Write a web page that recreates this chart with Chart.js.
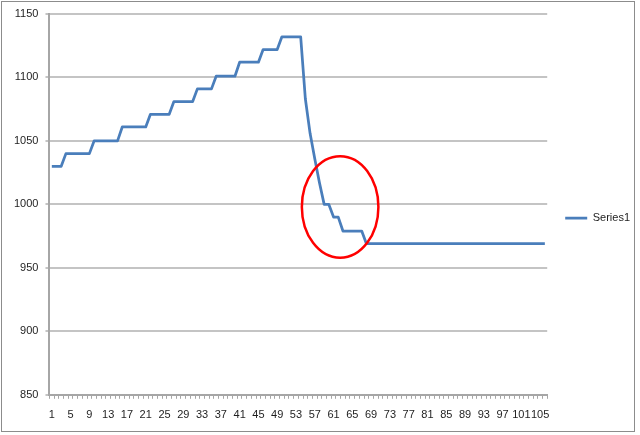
<!DOCTYPE html>
<html>
<head>
<meta charset="utf-8">
<script src="https://cdn.jsdelivr.net/npm/chart.js@4/dist/chart.umd.min.js"></script>
<style>
  html, body { margin: 0; padding: 0; background: #fff; }
  #wrap { width: 640px; height: 435px; }
</style>
</head>
<body>
<div id="wrap"><canvas id="chart" width="640" height="435"></canvas></div>
<script>
const categories = [
  '1', '2', '3', '4', '5', '6', '7', '8', '9', '10',
  '11', '12', '13', '14', '15', '16', '17', '18', '19', '20',
  '21', '22', '23', '24', '25', '26', '27', '28', '29', '30',
  '31', '32', '33', '34', '35', '36', '37', '38', '39', '40',
  '41', '42', '43', '44', '45', '46', '47', '48', '49', '50',
  '51', '52', '53', '54', '55', '56', '57', '58', '59', '60',
  '61', '62', '63', '64', '65', '66', '67', '68', '69', '70',
  '71', '72', '73', '74', '75', '76', '77', '78', '79', '80',
  '81', '82', '83', '84', '85', '86', '87', '88', '89', '90',
  '91', '92', '93', '94', '95', '96', '97', '98', '99', '100',
  '101', '102', '103', '104', '105', '106',
];

const series1 = [
  1030, 1030, 1030,
  1040, 1040, 1040, 1040, 1040, 1040,
  1050, 1050, 1050, 1050, 1050, 1050,
  1061, 1061, 1061, 1061, 1061, 1061,
  1071, 1071, 1071, 1071, 1071,
  1081, 1081, 1081, 1081, 1081,
  1091, 1091, 1091, 1091,
  1101, 1101, 1101, 1101, 1101,
  1112, 1112, 1112, 1112, 1112,
  1122, 1122, 1122, 1122,
  1132, 1132, 1132, 1132, 1132,
  1083, 1056, 1036, 1017,
  1000, 1000,
  990, 990,
  979, 979, 979, 979, 979,
  969, 969, 969, 969, 969, 969, 969, 969, 969, 969,
  969, 969, 969, 969, 969, 969, 969, 969, 969, 969,
  969, 969, 969, 969, 969, 969, 969, 969, 969, 969,
  969, 969, 969, 969, 969, 969, 969, 969, 969,
];

const xTickLabels = [
  '1', '5', '9', '13', '17', '21', '25', '29', '33', '37', '41', '45', '49',
  '53', '57', '61', '65', '69', '73', '77', '81', '85', '89', '93', '97', '101', '105',
];
const yTickValues = [850, 900, 950, 1000, 1050, 1100, 1150];

// red ellipse annotation, in data units (category index, value)
const circleMark = { index: 61.4, value: 998, halfIndex: 8.15, halfValue: 40 };

const textColor = '#1e1e1e';
const gridColor = '#c4c4c4';
const axisColor = '#a6a6a6';
const fontFamily = '"Liberation Sans", Arial, sans-serif';

const frame = {
  id: 'frame',
  beforeDraw(chart) {
    const ctx = chart.ctx;
    ctx.save();
    ctx.fillStyle = '#fff';
    ctx.fillRect(0, 0, chart.width, chart.height);
    ctx.strokeStyle = '#8c8c8c';
    ctx.lineWidth = 1;
    ctx.strokeRect(1.5, 1.5, 633, 430);
    ctx.restore();
  },
  // legend sits a little above the middle in the original
  afterLayout(chart) {
    chart.legend.top -= 5;
    chart.legend.bottom -= 5;
  },
};

const circleNote = {
  id: 'circleNote',
  afterDatasetsDraw(chart) {
    const { ctx, scales: { x, y } } = chart;
    const cx = x.getPixelForValue(circleMark.index);
    const cy = y.getPixelForValue(circleMark.value);
    const rx = x.getPixelForValue(circleMark.index + circleMark.halfIndex) - cx;
    const ry = cy - y.getPixelForValue(circleMark.value + circleMark.halfValue);
    ctx.save();
    ctx.beginPath();
    ctx.ellipse(cx, cy, rx, ry, 0, 0, Math.PI * 2);
    ctx.strokeStyle = '#ff0000';
    ctx.lineWidth = 2.5;
    ctx.stroke();
    ctx.restore();
  },
};

new Chart(document.getElementById('chart'), {
  type: 'line',
  data: {
    labels: categories,
    datasets: [
      {
        label: 'Series1',
        data: series1,
        borderColor: '#4a7ebb',
        backgroundColor: '#4a7ebb',
        borderWidth: 2.75,
        pointRadius: 0,
        tension: 0,
        borderJoinStyle: 'round',
      },
    ],
  },
  options: {
    responsive: false,
    animation: false,
    layout: {
      padding: { left: 7, top: 14, bottom: 3, right: 0 },
    },
    scales: {
      x: {
        type: 'category',
        offset: true,
        grid: {
          offset: true,
          drawOnChartArea: false,
          drawTicks: true,
          tickLength: 4,
          color: axisColor,
          lineWidth: 1,
        },
        border: { color: axisColor, width: 2 },
        ticks: {
          autoSkip: false,
          maxRotation: 0,
          minRotation: 0,
          padding: 10,
          color: textColor,
          font: { family: fontFamily, size: 11 },
          callback: function (value) {
            const label = this.getLabelForValue(value);
            return xTickLabels.includes(label) ? label : '';
          },
        },
      },
      y: {
        min: yTickValues[0],
        max: yTickValues[yTickValues.length - 1],
        afterBuildTicks: (scale) => {
          scale.ticks = yTickValues.map((v) => ({ value: v }));
        },
        grid: {
          color: gridColor,
          lineWidth: 2,
          tickLength: 4,
        },
        border: { color: axisColor, width: 2 },
        ticks: {
          padding: 7,
          color: textColor,
          font: { family: fontFamily, size: 11 },
          callback: (value) => String(value),
        },
      },
    },
    plugins: {
      legend: {
        position: 'right',
        labels: {
          usePointStyle: true,
          pointStyle: 'line',
          pointStyleWidth: 22,
          padding: 18,
          color: textColor,
          font: { family: fontFamily, size: 11 },
        },
      },
      tooltip: { enabled: false },
    },
  },
  plugins: [frame, circleNote],
});
</script>
</body>
</html>
